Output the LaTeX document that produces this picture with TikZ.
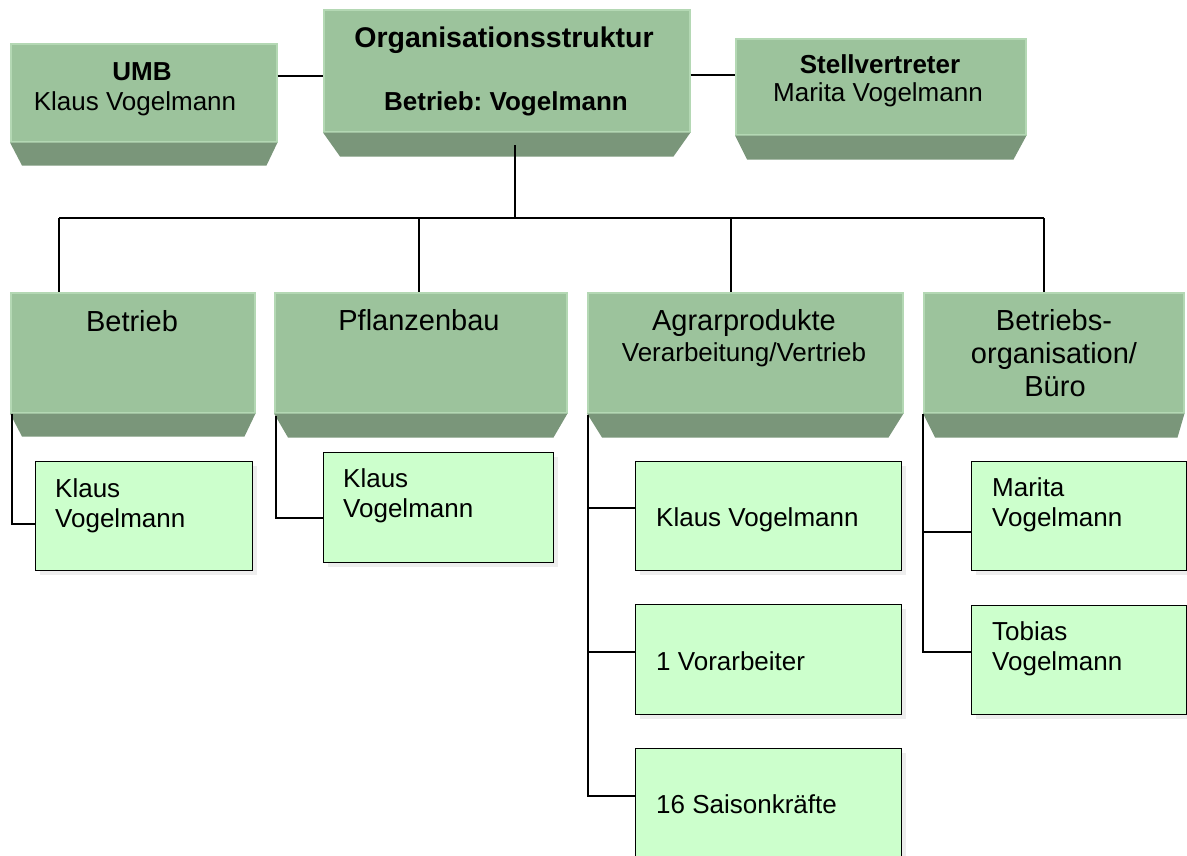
\documentclass[tikz,border=0pt]{standalone}
\usepackage{fontspec}
\setmainfont{Liberation Sans}
\frenchspacing
\usetikzlibrary{calc,shadows}
\definecolor{facecol}{HTML}{9CC39C}
\definecolor{rimcol}{HTML}{B4D8B4}
\definecolor{bevelcol}{HTML}{7A967A}
\definecolor{leafcol}{HTML}{CCFFCC}
\definecolor{shadecol}{HTML}{EDEDED}
\tikzset{
  facebox/.style={draw=rimcol, line width=1.5pt, fill=facecol, inner sep=0pt, anchor=north west},
  bevelfill/.style={fill=bevelcol},
  leafbox/.style={draw=black, line width=1.4pt, fill=leafcol, inner sep=0pt, anchor=north west,
    drop shadow={shadow xshift=4pt, shadow yshift=-4pt, fill=shadecol, opacity=1}},
  conn/.style={draw=black, line width=1.4pt},
  tA/.style={font=\fontsize{29}{33}\selectfont, inner sep=0pt, anchor=base},
  tB/.style={font=\fontsize{26}{30}\selectfont, inner sep=0pt, anchor=base},
  tBb/.style={font=\fontsize{26}{30}\selectfont\bfseries, inner sep=0pt, anchor=base},
  tTb/.style={font=\fontsize{28.5}{33}\selectfont\bfseries, inner sep=0pt, anchor=base},
  tL/.style={font=\fontsize{26}{30}\selectfont, inner sep=0pt, anchor=base west},
}
\newcommand\bevelunder[4]{\fill[bevelfill] (#1.south west) -- (#1.south east) -- ($(#1.south east)+(-#3,#4)$) -- ($(#1.south west)+(#2,#4)$) -- cycle;}
\begin{document}
\begin{tikzpicture}[x=1pt,y=-1pt]
\useasboundingbox (0,0) rectangle (1187,855);

% ---------- top row ----------
\node[facebox, minimum width=266, minimum height=98] (umb) at (10,43) {};
\bevelunder{umb}{12}{11}{23}
\node[facebox, minimum width=366, minimum height=122] (org) at (323,9) {};
\bevelunder{org}{17}{17}{24}
\node[facebox, minimum width=290, minimum height=96] (stv) at (735,38) {};
\bevelunder{stv}{12}{13}{24}

\node[tBb] (umbA) at (142,80) {UMB};
\node[tB]  (umbB) at (135,110) {Klaus Vogelmann};
\node[tTb] (orgA) at (504,47) {Organisationsstruktur};
\node[tBb] (orgB) at (506,110) {Betrieb: Vogelmann};
\node[tBb] (stvA) at (880,73) {Stellvertreter};
\node[tB]  (stvB) at (878,101) {Marita Vogelmann};

\draw[conn] (umb.east |- 0,76) -- (org.west |- 0,76);
\draw[conn] (org.east |- 0,75) -- (stv.west |- 0,75);

% ---------- second row ----------
\node[facebox, minimum width=244, minimum height=120] (betr) at (10,292) {};
\bevelunder{betr}{12}{11}{23}
\node[facebox, minimum width=292, minimum height=120] (pfl) at (274,292) {};
\bevelunder{pfl}{14}{14}{24}
\node[facebox, minimum width=315, minimum height=120] (agr) at (587,292) {};
\bevelunder{agr}{15}{15}{24}
\node[facebox, minimum width=260, minimum height=120] (bor) at (923,292) {};
\bevelunder{bor}{12}{7}{24}

\node[tA] (betrA) at (132,331) {Betrieb};
\node[tA] (pflA) at (419,330) {Pflanzenbau};
\node[tA] (agrA) at (744,330) {Agrarprodukte};
\node[tB] (agrB) at (744,361) {Verarbeitung/Vertrieb};
\node[tA] (borA) at (1054,330) {Betriebs-};
\node[tA] (borB) at (1054,363) {organisation/};
\node[tA] (borC) at (1055,396) {Büro};

% bus
\coordinate (hub) at (515,218);
\coordinate (b1) at (59,218);
\coordinate (b2) at (419,218);
\coordinate (b3) at (731,218);
\coordinate (b4) at (1044,218);
\draw[conn] (hub |- 0,145) -- (hub);
\draw[conn] (b1) -- (b4);
\draw[conn] (b1) -- (b1 |- betr.north);
\draw[conn] (b2) -- (b2 |- pfl.north);
\draw[conn] (b3) -- (b3 |- agr.north);
\draw[conn] (b4) -- (b4 |- bor.north);

% ---------- leaf boxes ----------
\node[leafbox, minimum width=217, minimum height=109] (c1) at (35,461) {};
\node[leafbox, minimum width=230, minimum height=110] (c2) at (323,452) {};
\node[leafbox, minimum width=266, minimum height=109] (c3a) at (635,461) {};
\node[leafbox, minimum width=266, minimum height=110] (c3b) at (635,604) {};
\node[leafbox, minimum width=266, minimum height=114] (c3c) at (635,748) {};
\node[leafbox, minimum width=215, minimum height=109] (c4a) at (971,461) {};
\node[leafbox, minimum width=215, minimum height=109] (c4b) at (971,605) {};

\node[tL] (c1A) at (55,497) {Klaus};
\node[tL] (c1B) at (55,527) {Vogelmann};
\node[tL] (c2A) at (343,487) {Klaus};
\node[tL] (c2B) at (343,517) {Vogelmann};
\node[tL] (c3aA) at (656,526) {Klaus Vogelmann};
\node[tL] (c3bA) at (656,670) {1 Vorarbeiter};
\node[tL] (c3cA) at (656,813) {16 Saisonkräfte};
\node[tL] (c4aA) at (992,496) {Marita};
\node[tL] (c4aB) at (992,526) {Vogelmann};
\node[tL] (c4bA) at (992,640) {Tobias};
\node[tL] (c4bB) at (992,670) {Vogelmann};

% leaf connectors
\draw[conn] ($(betr.south west)+(2,0)$) |- (c1.west |- 0,524);
\draw[conn] ($(pfl.south west)+(2,2)$) |- (c2.west |- 0,518);
\draw[conn] ($(agr.south west)+(1,1)$) |- (c3c.west |- 0,796);
\draw[conn] (c3a.west |- 0,508) -- ++(-47,0);
\draw[conn] (c3b.west |- 0,652) -- ++(-47,0);
\draw[conn] (bor.south west) |- (c4b.west |- 0,652);
\draw[conn] (c4a.west |- 0,532) -- ++(-48,0);
\end{tikzpicture}
\end{document}
